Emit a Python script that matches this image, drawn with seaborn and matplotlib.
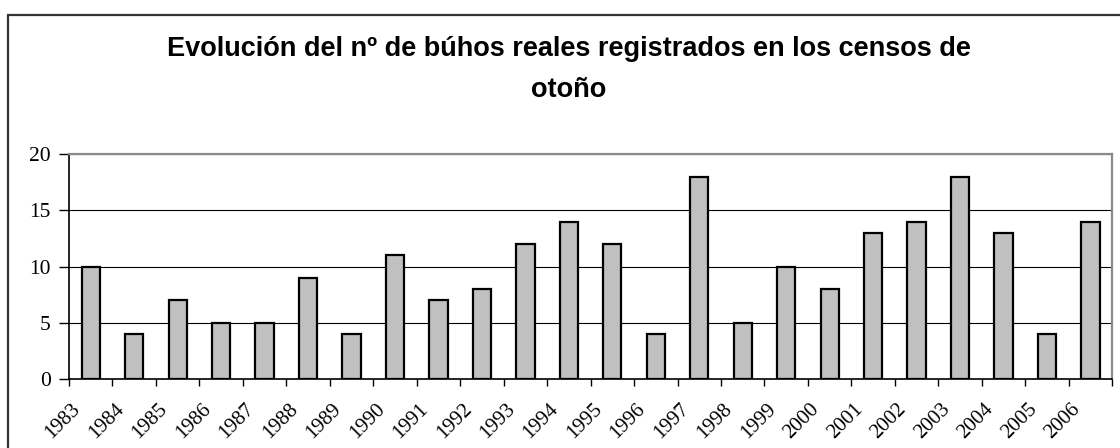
import matplotlib
matplotlib.use('Agg')
import matplotlib.pyplot as plt
import matplotlib.transforms as mtransforms
import numpy as np
import pandas as pd
import seaborn as sns
from matplotlib.patches import Rectangle
from matplotlib.ticker import FixedLocator

# data
years = ['1983', '1984', '1985', '1986', '1987', '1988', '1989', '1990',
         '1991', '1992', '1993', '1994', '1995', '1996', '1997', '1998',
         '1999', '2000', '2001', '2002', '2003', '2004', '2005', '2006']
owls = [10, 4, 7, 5, 5, 9, 4, 11, 7, 8, 12, 14, 12, 4, 18, 5,
        10, 8, 13, 14, 18, 13, 4, 14]
y_ticks = [0, 5, 10, 15, 20]
title = 'Evolución del nº de búhos reales registrados en los censos de\notoño'

df = pd.DataFrame({'year': years, 'count': owls})

sns.set_style('white')
plt.rcParams['font.family'] = ['Liberation Serif', 'DejaVu Serif']
plt.rcParams['text.color'] = 'black'
plt.rcParams['xtick.color'] = 'black'
plt.rcParams['ytick.color'] = 'black'

fig = plt.figure(figsize=(11.2, 4.48), dpi=100)
ax = fig.add_axes([0.0616, 0.154, 0.9314, 0.502])

sns.barplot(data=df, x='year', y='count', color='#C0C0C0', edgecolor='black',
            linewidth=1.6, width=0.42, saturation=1, ax=ax, zorder=3)

ax.set_ylim(0, 20)
ax.set_xlim(-0.5, len(years) - 0.5)
ax.set_yticks(y_ticks)
ax.yaxis.grid(True, color='black', linewidth=0.8, zorder=0)
ax.set_axisbelow(True)

# ticks sit between the bars
ax.xaxis.set_minor_locator(FixedLocator(np.arange(-0.5, len(years), 1.0)))
ax.tick_params(axis='x', which='major', length=0, pad=20, labelsize=15, labelcolor='black')
ax.tick_params(axis='x', which='minor', length=5, width=1, color='black', direction='out', bottom=True)
ax.tick_params(axis='y', length=7, width=1, color='black', direction='out', left=True,
               labelsize=15.5, pad=6, labelcolor='black')
shift = mtransforms.ScaledTranslation(-13 / 100, 0, fig.dpi_scale_trans)
for lab in ax.get_xticklabels():
    lab.set_rotation(45)
    lab.set_ha('right')
    lab.set_va('center')
    lab.set_rotation_mode('anchor')
    lab.set_transform(lab.get_transform() + shift)

ax.set_xlabel('')
ax.set_ylabel('')

for side in ['left', 'bottom']:
    ax.spines[side].set_color('black')
    ax.spines[side].set_linewidth(1.2)
for side in ['top', 'right']:
    ax.spines[side].set_visible(True)
    ax.spines[side].set_color('#8a8a8a')
    ax.spines[side].set_linewidth(1.6)

fig.text(0.508, 0.845, title, ha='center', va='center', fontsize=19.5, color='black',
         fontweight='bold', family=['Liberation Sans', 'DejaVu Sans'], linespacing=1.75)

# chart frame
fig.patches.append(Rectangle((8 / 1120, -0.1), 1.2, (448 - 15) / 448 + 0.1,
                             transform=fig.transFigure, fill=False,
                             edgecolor='#333333', linewidth=1.6))

fig.savefig('out.png', dpi=100)
